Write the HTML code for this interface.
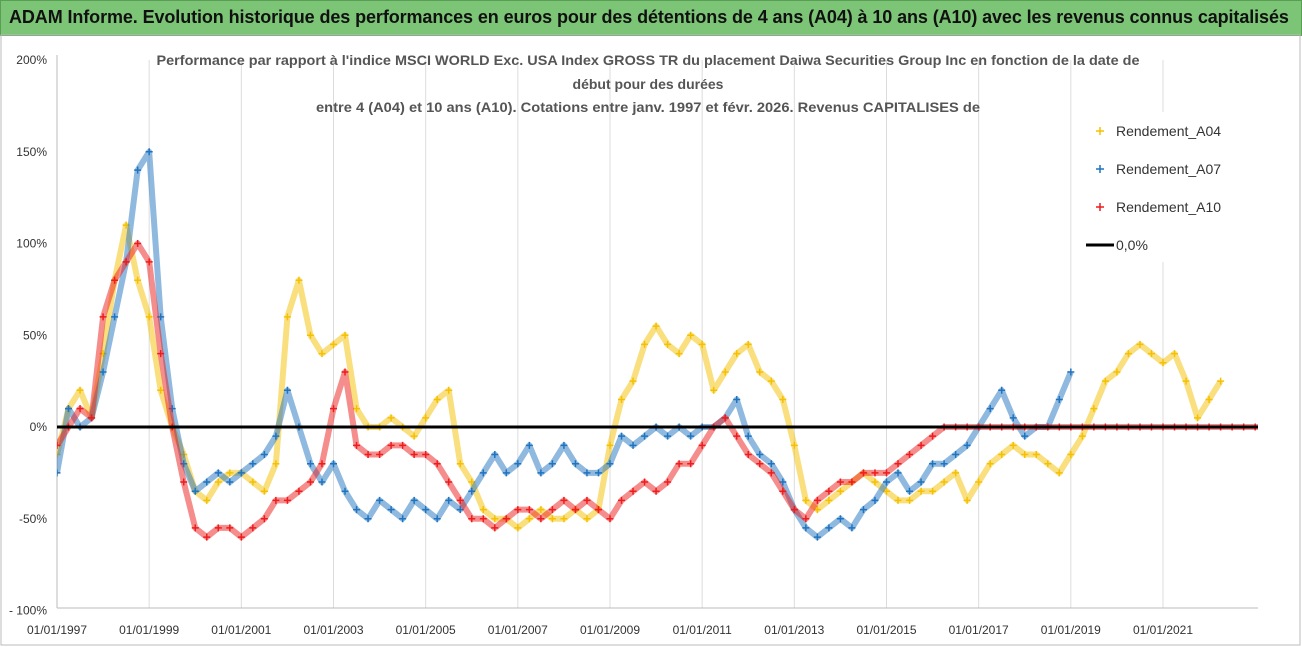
<!DOCTYPE html>
<html><head><meta charset="utf-8">
<style>
body{margin:0;width:1302px;height:647px;background:#fff;overflow:hidden;font-family:"Liberation Sans",sans-serif}
#hdr{position:absolute;left:0;top:0;width:1300px;height:34px;background:#7cc576;border:1px solid #5a9e55;}
#hdr span{position:absolute;left:8px;top:6px;font-size:18px;font-weight:bold;color:#111;letter-spacing:-0.1px;white-space:nowrap}
svg{position:absolute;left:0;top:0}
</style></head><body>
<div id="hdr"><span>ADAM Informe. Evolution historique des performances en euros pour des détentions de 4 ans (A04) à 10 ans (A10) avec les revenus connus capitalisés</span></div>
<svg id="chart" width="1302" height="647"></svg>
<script>
const startYear = 1997;
const stepYears = 0.25;
const xTickLabels = ["01/01/1997","01/01/1999","01/01/2001","01/01/2003","01/01/2005","01/01/2007","01/01/2009","01/01/2011","01/01/2013","01/01/2015","01/01/2017","01/01/2019","01/01/2021"];
const xTickYears = [1997,1999,2001,2003,2005,2007,2009,2011,2013,2015,2017,2019,2021];
const yTickValues = [200,150,100,50,0,-50,-100];
const yTickLabels = ["200%","150%","100%","50%","0%","-50%","- 100%"];
const rendementA04 = [-15,10,20,5,40,80,110,80,60,20,0,-15,-35,-40,-30,-25,-25,-30,-35,-20,60,80,50,40,45,50,10,0,0,5,0,-5,5,15,20,-20,-30,-45,-50,-50,-55,-50,-45,-50,-50,-45,-50,-45,-10,15,25,45,55,45,40,50,45,20,30,40,45,30,25,15,-10,-40,-45,-40,-35,-30,-25,-30,-35,-40,-40,-35,-35,-30,-25,-40,-30,-20,-15,-10,-15,-15,-20,-25,-15,-5,10,25,30,40,45,40,35,40,25,5,15,25];
const rendementA07 = [-25,10,0,5,30,60,90,140,150,60,10,-20,-35,-30,-25,-30,-25,-20,-15,-5,20,0,-20,-30,-20,-35,-45,-50,-40,-45,-50,-40,-45,-50,-40,-45,-35,-25,-15,-25,-20,-10,-25,-20,-10,-20,-25,-25,-20,-5,-10,-5,0,-5,0,-5,0,0,5,15,-5,-15,-20,-30,-45,-55,-60,-55,-50,-55,-45,-40,-30,-25,-35,-30,-20,-20,-15,-10,0,10,20,5,-5,0,0,15,30];
const rendementA10 = [-10,0,10,5,60,80,90,100,90,40,0,-30,-55,-60,-55,-55,-60,-55,-50,-40,-40,-35,-30,-20,10,30,-10,-15,-15,-10,-10,-15,-15,-20,-30,-40,-50,-50,-55,-50,-45,-45,-50,-45,-40,-45,-40,-45,-50,-40,-35,-30,-35,-30,-20,-20,-10,0,5,-5,-15,-20,-25,-35,-45,-50,-40,-35,-30,-30,-25,-25,-25,-20,-15,-10,-5,0,0,0,0,0,0,0,0,0,0,0,0,0,0,0,0,0,0,0,0,0,0,0,0,0,0,0,0,0,0,0];
const legendNames = ["Rendement_A04","Rendement_A07","Rendement_A10","0,0%"];

const NS="http://www.w3.org/2000/svg";
const svg=document.getElementById('chart');
const L=57,R=1258,T=60,B=608;
const X=y=>L+(y-1997)*(1163-57)/24;
const Y=v=>427-v*1.835;
function el(t,a,p){const e=document.createElementNS(NS,t);for(const k in a)e.setAttribute(k,a[k]);(p||svg).appendChild(e);return e;}

const defs=el('defs',{});
const cp=el('clipPath',{id:'plotclip'},defs);
el('rect',{x:L,y:T-10,width:R-L,height:B-T+10},cp);

const frame=el('rect',{x:1,y:35,width:1299,height:610,fill:'none',stroke:'#bbb'});



xTickYears.forEach((yr,i)=>{
  const g=el('line',{x1:X(yr),x2:X(yr),y1:T,y2:B,stroke:'#dcdcdc','stroke-width':1});
  
  
  const t=el('text',{x:X(yr),y:634,'font-size':12,'text-anchor':'middle',fill:'#333'});
  t.textContent=xTickLabels[i];
  
  
});
yTickValues.forEach((v,i)=>{
  const t=el('text',{x:47,y:Y(v)+4,'font-size':12,'text-anchor':'end',fill:'#333'});
  t.textContent=yTickLabels[i];
  
  
});
const ax=el('line',{x1:L,x2:L,y1:T-5,y2:B,stroke:'#bbb'});


const bx=el('line',{x1:L,x2:R,y1:B,y2:B,stroke:'#bbb'});



function series(vals,color,name){
  const g=el('g',{'clip-path':'url(#plotclip)'});
  
  
  const pts=vals.map((v,i)=>X(startYear+i*stepYears)+','+Y(v)).join(' ');
  el('polyline',{points:pts,fill:'none',stroke:color,'stroke-width':6,'stroke-opacity':0.5,'stroke-linejoin':'round'},g);
  vals.forEach((v,i)=>{
    const x=X(startYear+i*stepYears),y=Y(v);
    const m=el('path',{d:`M${x-3.5},${y}H${x+3.5}M${x},${y-3.5}V${y+3.5}`,stroke:color,'stroke-width':1.5},g);
    
    
  });
}
series(rendementA04,'#f5c000','series-a04');
series(rendementA07,'#1f74c0','series-a07');
series(rendementA10,'#ee1c1c','series-a10');
const zl=el('line',{x1:L,x2:R,y1:Y(0),y2:Y(0),stroke:'#000','stroke-width':3});



const titles=["Performance par rapport à l'indice MSCI WORLD Exc. USA Index GROSS TR  du placement Daiwa Securities Group Inc en fonction de la date de","début pour des durées","entre 4 (A04) et 10 ans (A10).  Cotations entre janv. 1997 et févr. 2026. Revenus CAPITALISES de"];
const tlen=[983,0,664];
[65,89,112].forEach((y,i)=>{
  const a={x:648,y:y,'font-size':14,'font-weight':'bold','text-anchor':'middle',fill:'#555'};
  if(tlen[i]){a.textLength=tlen[i];a.lengthAdjust='spacingAndGlyphs';}
  const t=el('text',a);
  t.textContent=titles[i];
  
  
});

const lg=el('g',{});


el('rect',{x:1080,y:112,width:185,height:150,fill:'#fff'},lg);
const lc=['#f5c000','#1f74c0','#ee1c1c','#000'];
[131,169,207,245].forEach((y,i)=>{
  const e=el('g',{},lg);
  
  
  if(i<3) el('path',{d:`M1096,${y}h8M1100,${y-4}v8`,stroke:lc[i],'stroke-width':1.5},e);
  else el('line',{x1:1086,x2:1114,y1:y,y2:y,stroke:'#000','stroke-width':3},e);
  const t=el('text',{x:1116,y:y+5,'font-size':14,fill:'#333'},e);
  t.textContent=legendNames[i];
});
</script>
</body></html>
